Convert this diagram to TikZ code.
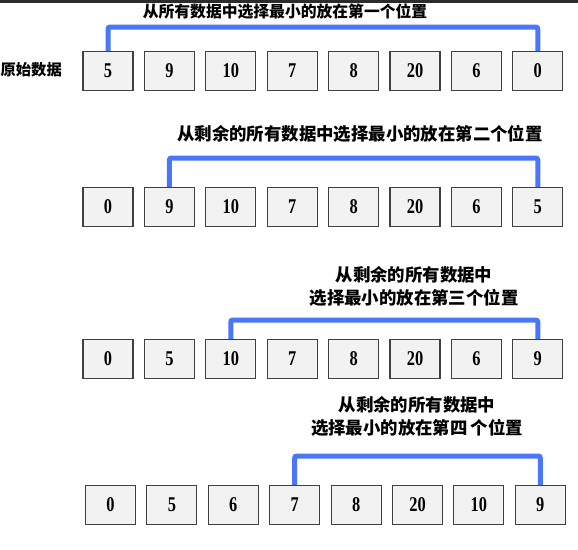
\documentclass[tikz,border=0pt]{standalone}
\usepackage{fontspec}
\setmainfont{Liberation Serif}
\newfontfamily\digfont{Liberation Serif}[FakeStretch=0.78]
\newfontfamily\cjk{Noto Sans CJK SC}
\begin{document}
\begin{tikzpicture}[x=1pt,y=-1pt,
  cell/.style={draw=black!75,line width=1.1pt,fill=black!5,minimum width=50pt,minimum height=39pt,inner sep=0pt,font=\digfont\fontsize{21}{21}\selectfont\bfseries},
  bracket/.style={draw={rgb,255:red,74;green,118;blue,250},line width=5pt,rounded corners=2pt},
  captxt/.style={font=\cjk\bfseries\fontsize{17.4}{23}\selectfont,align=center,inner sep=0pt}]
\useasboundingbox (0,0) rectangle (578,549);
\fill[black!83] (0,0) rectangle (578,3);
\foreach \v [count=\i] in {5,9,10,7,8,20,6,0}
  \node[cell] (a\i) at ({108+61.4*(\i-1)},71) {\v};
\foreach \v [count=\i] in {0,9,10,7,8,20,6,5}
  \node[cell] (b\i) at ({108+61.4*(\i-1)},207) {\v};
\foreach \v [count=\i] in {0,5,10,7,8,20,6,9}
  \node[cell] (c\i) at ({108+61.4*(\i-1)},359) {\v};
\foreach \v [count=\i] in {0,5,6,7,8,20,10,9}
  \node[cell] (d\i) at ({110.5+61.4*(\i-1)},505) {\v};
\node[captxt,font=\cjk\bfseries\fontsize{15.3}{18}\selectfont,anchor=east] (lbl) at (62,70) {原始数据};
\node[captxt,font=\cjk\bfseries\fontsize{15.8}{18}\selectfont] (t1) at (285,11) {从所有数据中选择最小的放在第一个位置};
\node[captxt] (t2) at (360,134) {从剩余的所有数据中选择最小的放在第二个位置};
\node[captxt] (t3) at (414,286) {从剩余的所有数据中\\选择最小的放在第三个位置};
\node[captxt] (t4) at (417,416) {从剩余的所有数据中\\选择最小的放在第四\,个位置};
\draw[bracket] (a1.north) -- (a1.north |- 0,27) -| (a8.north);
\draw[bracket] (b2.north) -- (b2.north |- 0,158) -| (b8.north);
\draw[bracket] (c3.north) -- (c3.north |- 0,320) -| (c8.north);
\draw[bracket] (d4.north) -- (d4.north |- 0,456) -| (d8.north);
\end{tikzpicture}
\end{document}
